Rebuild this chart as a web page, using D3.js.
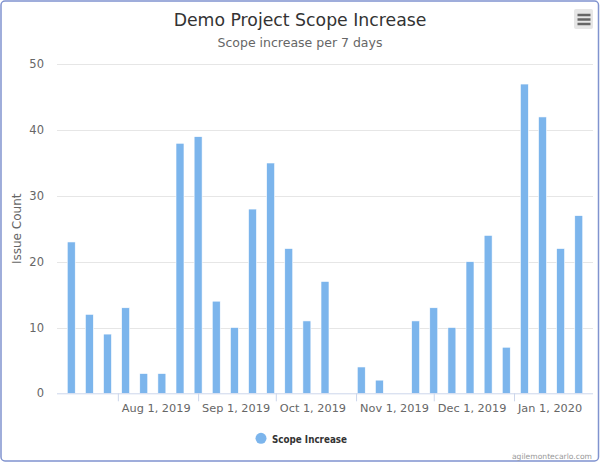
<!DOCTYPE html>
<html>
  <head>
    <style>
      body { margin: 0; background: #fff; }
      text { font-family: "DejaVu Sans", sans-serif; }
    </style>
    <script src="https://d3js.org/d3.v7.min.js"></script>
  </head>
  <body>
    <svg id="chart" width="600" height="463"></svg>

    <script>
      // weekly scope increase, first week starts Jul 14 2019
      var startDate = Date.UTC(2019, 6, 14);
      var values = [23, 12, 9, 13, 3, 3, 38, 39, 14, 10, 28, 35, 22, 11, 17,
                    0, 4, 2, 0, 11, 13, 10, 20, 24, 7, 47, 42, 22, 27];
      var yTicks = [0, 10, 20, 30, 40, 50];
      var seriesName = "Scope Increase";

      var DAY = 864e5;
      var weeks = values.map(function(v, i) {
        return { date: new Date(startDate + i * 7 * DAY), value: v };
      });

      var svg = d3.select("#chart");
      var plotLeft = 57, plotRight = 593, plotTop = 64.3, plotBottom = 393.3;

      // frame
      svg.append("rect")
        .attr("x", 1).attr("y", 1)
        .attr("width", 597.5).attr("height", 460)
        .attr("rx", 4)
        .attr("fill", "#fff")
        .attr("stroke", "#8093cf")
        .attr("stroke-width", 1.5);

      var first = weeks[0].date.getTime(), last = weeks[weeks.length - 1].date.getTime();
      var x = d3.scaleUtc()
        .domain([new Date(first - 5.5 * DAY), new Date(last + 5.5 * DAY)])
        .range([plotLeft, plotRight]);
      var y = d3.scaleLinear().domain([0, 50]).range([plotBottom, plotTop]);

      // grid
      svg.append("g").selectAll("line")
        .data(yTicks.slice(1))
        .join("line")
        .attr("x1", plotLeft).attr("x2", plotRight)
        .attr("y1", function(d) { return Math.round(y(d)) + 0.5; })
        .attr("y2", function(d) { return Math.round(y(d)) + 0.5; })
        .attr("stroke", "#e6e6e6");

      // y labels
      svg.append("g").selectAll("text")
        .data(yTicks)
        .join("text")
        .attr("x", 44)
        .attr("y", function(d) { return y(d) + 4; })
        .attr("text-anchor", "end")
        .attr("font-size", 11.5)
        .attr("fill", "#666")
        .text(function(d) { return d; });

      svg.append("text")
        .attr("transform", "translate(21," + ((plotTop + plotBottom) / 2) + ") rotate(-90)")
        .attr("text-anchor", "middle")
        .attr("font-size", 12)
        .attr("fill", "#666")
        .text("Issue Count");

      // bars
      var barW = (x(new Date(first + 7 * DAY)) - x(weeks[0].date)) * 0.44;
      svg.append("g").selectAll("rect")
        .data(weeks.filter(function(d) { return d.value > 0; }))
        .join("rect")
        .attr("x", function(d) { return x(d.date) - barW / 2; })
        .attr("y", function(d) { return y(d.value); })
        .attr("width", barW)
        .attr("height", function(d) { return y(0) - y(d.value); })
        .attr("fill", "#7cb5ec")
        .attr("stroke", "#fff")
        .attr("stroke-width", 0.6);

      // x axis
      var xAxis = d3.axisBottom(x)
        .ticks(d3.utcMonth.every(1))
        .tickSize(8)
        .tickFormat(d3.utcFormat("%b %-d, %Y"));
      var gx = svg.append("g")
        .attr("transform", "translate(0," + plotBottom + ")")
        .call(xAxis);
      gx.select(".domain").attr("stroke", "#ccd6eb").attr("d", "M" + plotLeft + ",0.5H" + plotRight);
      gx.selectAll(".tick line").attr("stroke", "#ccd6eb");
      gx.selectAll(".tick text")
        .attr("x", 3.5)
        .attr("dy", null)
        .attr("y", 18.5)
        .attr("text-anchor", "start")
        .attr("font-family", "DejaVu Sans, sans-serif")
        .attr("font-size", 11.3)
        .attr("fill", "#666");

      // titles
      svg.append("text")
        .attr("x", 300).attr("y", 26)
        .attr("text-anchor", "middle")
        .attr("font-size", 17.3)
        .attr("fill", "#333")
        .text("Demo Project Scope Increase");
      svg.append("text")
        .attr("x", 300).attr("y", 47)
        .attr("text-anchor", "middle")
        .attr("font-size", 12.5)
        .attr("fill", "#666")
        .text("Scope increase per 7 days");

      // menu button
      var menu = svg.append("g");
      menu.append("rect")
        .attr("x", 574).attr("y", 9).attr("width", 19).attr("height", 20)
        .attr("rx", 2).attr("fill", "#e6e6e6");
      [15, 19.5, 24].forEach(function(yy) {
        menu.append("line")
          .attr("x1", 577.5).attr("x2", 590.5)
          .attr("y1", yy).attr("y2", yy)
          .attr("stroke", "#666").attr("stroke-width", 2.5);
      });

      // legend
      svg.append("circle")
        .attr("cx", 261).attr("cy", 438.3).attr("r", 5.5)
        .attr("fill", "#7cb5ec");
      svg.append("text")
        .attr("x", 272).attr("y", 442.5)
        .attr("font-size", 11)
        .attr("font-weight", "bold")
        .attr("fill", "#333")
        .attr("textLength", 75)
        .attr("lengthAdjust", "spacingAndGlyphs")
        .text(seriesName);

      // credits
      svg.append("text")
        .attr("x", 592).attr("y", 459)
        .attr("text-anchor", "end")
        .attr("font-size", 7.6)
        .attr("fill", "#999")
        .text("agilemontecarlo.com");
    </script>
  </body>
</html>
